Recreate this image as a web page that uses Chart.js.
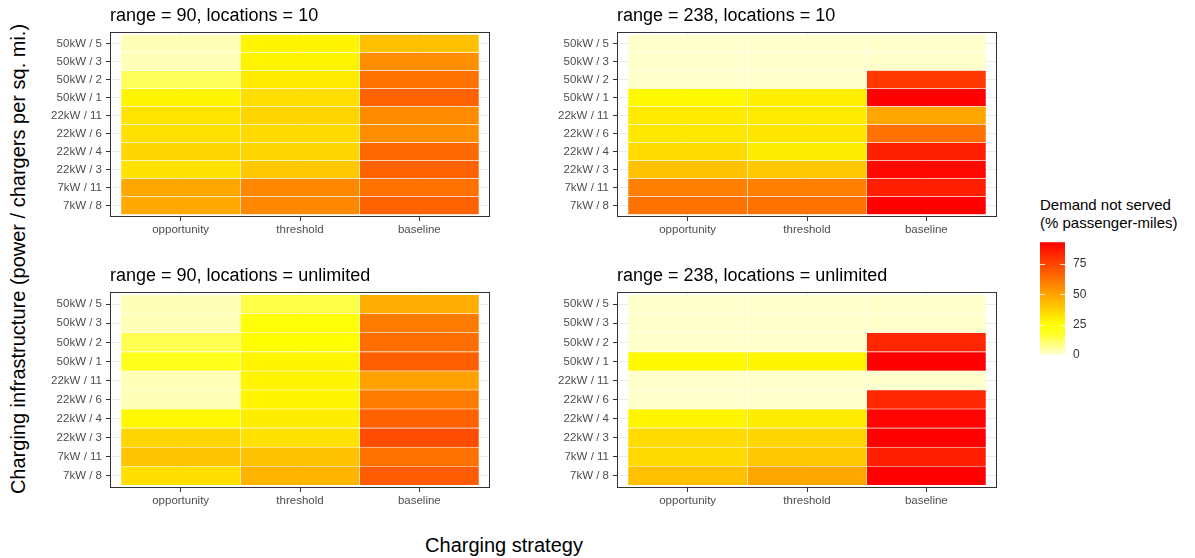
<!DOCTYPE html>
<html lang="en">

<head>
    <meta charset="UTF-8">
    <title>Demand not served by charging strategy</title>
    <script src="https://cdn.jsdelivr.net/npm/chart.js"></script>
    <style>
        body {
            margin: 0;
            background: #fff;
            font-family: "Liberation Sans", Arial, sans-serif;
        }

        #figure {
            position: relative;
            width: 1195px;
            height: 558px;
            overflow: hidden;
        }

        #figure canvas,
        .label {
            position: absolute;
        }

        .label {
            color: #000;
            white-space: nowrap;
        }

        .axis-title {
            font-size: 20px;
            transform: translate(-50%, -50%);
        }

        .axis-title.vertical {
            transform: translate(-50%, -50%) rotate(-90deg);
        }

        .legend-title {
            font-size: 15px;
            line-height: 18px;
        }
    </style>
</head>

<body>
    <div id="figure">
        <div class="label axis-title vertical" style="left:18px; top:259px;">Charging infrastructure (power / chargers per sq. mi.)</div>
        <div class="label axis-title" style="left:504px; top:545px;">Charging strategy</div>
        <div class="label legend-title" style="left:1040px; top:196px;">Demand not served<br>(% passenger-miles)</div>
    </div>

    <script>
        // categories
        const rows = ['50kW / 5', '50kW / 3', '50kW / 2', '50kW / 1', '22kW / 11',
            '22kW / 6', '22kW / 4', '22kW / 3', '7kW / 11', '7kW / 8'];
        const strategies = ['opportunity', 'threshold', 'baseline'];
        const panelTitles = ['range = 90, locations = 10', 'range = 238, locations = 10',
            'range = 90, locations = unlimited', 'range = 238, locations = unlimited'];

        // % demand not served, one array per strategy, rows in the order above
        const range90Loc10 = [
            [3, 3, 12, 28, 32.5, 33.5, 36, 33, 49, 48],
            [28, 28.5, 31, 34, 36.5, 35.5, 36.5, 40, 57, 57],
            [42, 55, 63, 67, 56, 55, 65, 67, 63, 67]
        ];
        const range238Loc10 = [
            [1, 1, 1, 27, 31, 31.5, 35, 41.5, 59.5, 63],
            [1, 1, 1, 29.5, 31, 32, 30, 40, 59.5, 63],
            [1, 1, 78, 93, 48.5, 63, 84.5, 91, 85, 93]
        ];
        const range90Unlimited = [
            [3, 3, 13, 20, 3, 3, 27, 36.5, 41, 34],
            [14, 24, 26, 28, 28, 28, 30, 33, 41.5, 45],
            [47, 60.5, 64, 68, 50, 60.5, 67.5, 73, 63, 69]
        ];
        const range238Unlimited = [
            [1, 1, 1, 27, 1, 1, 28, 35, 35.5, 42],
            [1, 1, 1, 28, 1, 1, 30, 36.5, 40, 49],
            [1, 1, 83, 93, 1, 83, 92, 93, 85, 93]
        ];

        // legend ticks
        const legendTicks = [0, 25, 50, 75];

        // rev(heat.colors(12))
        const fillColours = ['#FFFFD5', '#FFFF80', '#FFFF2A', '#FFFF00', '#FFDF00', '#FFBF00',
            '#FF9F00', '#FF8000', '#FF6000', '#FF4000', '#FF2000', '#FF0000'];

        const allValues = [range90Loc10, range238Loc10, range90Unlimited, range238Unlimited].flat(2);
        const fillMax = Math.max(...allValues);

        const font = "'Liberation Sans', Arial, sans-serif";
        const tickGrey = '#4d4d4d';

        function hexToRgb(h) {
            return [1, 3, 5].map(i => parseInt(h.substr(i, 2), 16));
        }

        function fillColour(v) {
            const n = fillColours.length - 1;
            const p = Math.max(0, Math.min(1, v / fillMax)) * n;
            const i = Math.min(Math.floor(p), n - 1);
            const t = p - i;
            const a = hexToRgb(fillColours[i]), b = hexToRgb(fillColours[i + 1]);
            const c = a.map((x, k) => Math.round(x + (b[k] - x) * t));
            return `rgb(${c[0]},${c[1]},${c[2]})`;
        }

        // dark box round the panel, like theme_bw
        const panelBox = {
            id: 'panelBox',
            afterDraw(chart) {
                const { ctx, chartArea: a } = chart;
                ctx.save();
                ctx.strokeStyle = '#333333';
                ctx.lineWidth = 1;
                ctx.strokeRect(a.left + 0.5, a.top + 0.5, a.width - 1, a.height - 1);
                ctx.restore();
            }
        };

        const panels = [
            { values: range90Loc10, left: 110, top: 32, height: 185 },
            { values: range238Loc10, left: 617, top: 32, height: 185 },
            { values: range90Unlimited, left: 110, top: 292, height: 196 },
            { values: range238Unlimited, left: 617, top: 292, height: 196 }
        ];

        const figure = document.getElementById('figure');
        const yAxisW = 70, xAxisH = 28, titleH = 28, panelW = 380;

        function tickStyle() {
            return { color: tickGrey, font: { family: font, size: 11.5 } };
        }

        panels.forEach((p, k) => {
            const canvas = document.createElement('canvas');
            canvas.width = yAxisW + panelW + 2;
            canvas.height = titleH + p.height + xAxisH;
            canvas.style.left = (p.left - yAxisW) + 'px';
            canvas.style.top = (p.top - titleH) + 'px';
            figure.appendChild(canvas);

            new Chart(canvas, {
                type: 'bar',
                data: {
                    datasets: strategies.map((s, j) => ({
                        label: s,
                        data: rows.map((r, i) => ({ y: i, x: [j - 0.5, j + 0.5] })),
                        backgroundColor: p.values[j].map(fillColour),
                        borderColor: 'rgba(255,255,255,0.55)',
                        borderWidth: 0.6,
                        borderSkipped: false,
                        grouped: false,
                        categoryPercentage: 1,
                        barPercentage: 1
                    }))
                },
                options: {
                    indexAxis: 'y',
                    responsive: false,
                    animation: false,
                    events: [],
                    layout: { padding: { right: 2 } },
                    plugins: {
                        legend: { display: false },
                        tooltip: { enabled: false },
                        title: {
                            display: true,
                            text: panelTitles[k],
                            align: 'start',
                            fullSize: false,
                            color: '#000',
                            font: { family: font, size: 18, weight: 'normal', lineHeight: '20px' },
                            padding: { top: 2, bottom: 6 }
                        }
                    },
                    scales: {
                        x: {
                            type: 'linear',
                            min: -0.592,
                            max: 2.592,
                            offset: false,
                            afterBuildTicks: s => { s.ticks = strategies.map((_, j) => ({ value: j })); },
                            afterFit: s => { s.height = xAxisH; },
                            ticks: Object.assign(tickStyle(), {
                                callback: v => strategies[Math.round(v)],
                                padding: 2,
                                maxRotation: 0,
                                autoSkip: false
                            }),
                            grid: { color: '#ebebeb', tickColor: '#333333', tickLength: 4, offset: false },
                            border: { display: false }
                        },
                        y: {
                            type: 'linear',
                            reverse: true,
                            min: -0.64,
                            max: rows.length - 1 + 0.64,
                            offset: false,
                            afterBuildTicks: s => { s.ticks = rows.map((_, i) => ({ value: i })); },
                            afterFit: s => { s.width = yAxisW; },
                            ticks: Object.assign(tickStyle(), {
                                callback: v => rows[Math.round(v)],
                                padding: 4,
                                autoSkip: false
                            }),
                            grid: { color: '#ebebeb', tickColor: '#333333', tickLength: 4, offset: false },
                            border: { display: false }
                        }
                    }
                },
                plugins: [panelBox]
            });
        });

        // colour bar legend
        const barTicks = {
            id: 'barTicks',
            afterDatasetsDraw(chart) {
                const { ctx, chartArea: a, scales } = chart;
                const len = a.width / 5;
                ctx.save();
                ctx.strokeStyle = 'rgba(255,255,255,0.8)';
                ctx.lineWidth = 1;
                legendTicks.forEach(v => {
                    const y = Math.round(scales.y.getPixelForValue(v)) + 0.5;
                    ctx.beginPath();
                    ctx.moveTo(a.left, y); ctx.lineTo(a.left + len, y);
                    ctx.moveTo(a.right - len, y); ctx.lineTo(a.right, y);
                    ctx.stroke();
                });
                ctx.restore();
            }
        };

        const legendCanvas = document.createElement('canvas');
        legendCanvas.width = 25 + 40;
        legendCanvas.height = 123 + 20;
        legendCanvas.style.left = '1040px';
        legendCanvas.style.top = (237 - 10) + 'px';
        figure.appendChild(legendCanvas);

        new Chart(legendCanvas, {
            type: 'bar',
            data: {
                labels: [''],
                datasets: [{
                    data: [[0, fillMax]],
                    backgroundColor: ctx => {
                        const { chart } = ctx;
                        if (!chart.chartArea) return fillColours[0];
                        const y = chart.scales.y;
                        const g = chart.ctx.createLinearGradient(0, y.getPixelForValue(0), 0, y.getPixelForValue(fillMax));
                        fillColours.forEach((c, i) => g.addColorStop(i / (fillColours.length - 1), c));
                        return g;
                    },
                    borderWidth: 0,
                    categoryPercentage: 1,
                    barPercentage: 1
                }]
            },
            options: {
                responsive: false,
                animation: false,
                events: [],
                layout: { padding: { top: 10, bottom: 10, left: 0, right: 0 } },
                plugins: { legend: { display: false }, tooltip: { enabled: false } },
                scales: {
                    x: { display: false },
                    y: {
                        position: 'right',
                        min: 0,
                        max: fillMax,
                        afterBuildTicks: s => { s.ticks = legendTicks.map(v => ({ value: v })); },
                        afterFit: s => { s.width = 40; },
                        ticks: { color: '#333333', font: { family: font, size: 12 }, padding: 8 },
                        grid: { display: false, drawTicks: false },
                        border: { display: false }
                    }
                }
            },
            plugins: [barTicks]
        });
    </script>
</body>

</html>
